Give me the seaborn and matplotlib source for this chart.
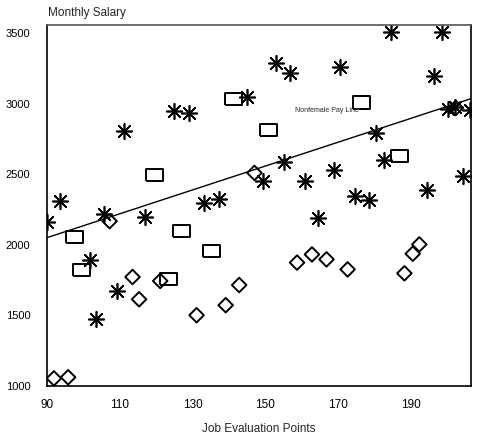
import matplotlib
matplotlib.use("Agg")
import matplotlib.pyplot as plt
import seaborn as sns
import pandas as pd

# Nonfemale (asterisks)
star_x = [90, 93.7, 105.6, 111.2, 101.7, 109.2, 103.6, 117.0, 125.0, 129.1, 133.2, 137.3,
          145.0, 152.8, 156.9, 170.6, 184.5, 198.4, 196.4, 200.1, 202.1, 206.3, 180.4,
          155.1, 149.4, 160.8, 168.8, 182.7, 174.7, 178.6, 194.3, 204.4, 164.5]
star_y = [2162, 2310, 2223, 2810, 1891, 1674, 1474, 2200, 2952, 2935, 2299, 2327,
          3049, 3294, 3218, 3265, 3508, 3508, 3195, 2963, 2977, 2954, 2794,
          2589, 2452, 2452, 2535, 2605, 2346, 2322, 2393, 2492, 2188]

# Squares
sq_x = [119.5, 141.2, 176.5, 150.8, 186.8, 97.5, 99.6, 127.0, 135.3, 123.4]
sq_y = [2494, 3037, 3011, 2813, 2629, 2059, 1820, 2098, 1957, 1757]

# Diamonds
dia_x = [91.9, 95.8, 107.2, 113.5, 115.3, 121.1, 131.1, 139.1, 142.8, 147.0,
         158.7, 162.8, 166.8, 172.6, 188.2, 190.5, 192.3, 202.3]
dia_y = [1054, 1062, 2169, 1773, 1615, 1745, 1502, 1573, 1716, 2511,
         1875, 1933, 1898, 1827, 1799, 1938, 2004, 2972]

# Nonfemale pay line
line_x = [90, 207]
line_y = [2052, 3042]

x_ticks = [90, 110, 130, 150, 170, 190]
y_ticks = [1000, 1500, 2000, 2500, 3000, 3500]

sns.set_style("white")
plt.rcParams['font.family'] = ['Liberation Sans', 'DejaVu Sans']

fig = plt.figure(figsize=(4.84, 4.37), dpi=100)
ax = fig.add_axes([47/484, 1 - 386/437, (471-47)/484, (386-25)/437])

df_s = pd.DataFrame({"x": star_x, "y": star_y})
df_q = pd.DataFrame({"x": sq_x, "y": sq_y})
df_d = pd.DataFrame({"x": dia_x, "y": dia_y})
df_l = pd.DataFrame({"x": line_x, "y": line_y})

sns.lineplot(data=df_l, x="x", y="y", ax=ax, color="black", linewidth=1.0)

rect = [(-1, -0.72), (1, -0.72), (1, 0.72), (-1, 0.72), (-1, -0.72)]
sns.scatterplot(data=df_q, x="x", y="y", ax=ax, marker=rect, s=150,
                facecolor="none", edgecolor="black", linewidth=1.4)
sns.scatterplot(data=df_d, x="x", y="y", ax=ax, marker="D", s=55,
                facecolor="none", edgecolor="black", linewidth=1.4)
sns.scatterplot(data=df_s, x="x", y="y", ax=ax, marker=(8, 2, 0), s=125,
                color="black", linewidth=1.2)

ax.set_xlim(90, 206.5)
ax.set_ylim(1000, 3560)
ax.set_xticks(x_ticks)
ax.set_yticks(y_ticks)
ax.tick_params(axis="both", length=0, labelcolor="black")
ax.tick_params(axis="x", pad=9, labelsize=8.5)
ax.tick_params(axis="y", pad=12, labelsize=8)
for sp in ax.spines.values():
    sp.set_visible(True)
    sp.set_color("black")
    sp.set_linewidth(1.2)
ax.spines["top"].set_color("#555555")

ax.set_xlabel("Job Evaluation Points", fontsize=8.5, labelpad=9)
ax.set_ylabel("")
fig.text(48/484, 1 - 13/437, "Monthly Salary", fontsize=8.5, ha="left", va="center")

ax.text(158.1, 2952, "Nonfemale Pay Line", fontsize=5, ha="left", va="center")

fig.savefig("out.png", dpi=100)
